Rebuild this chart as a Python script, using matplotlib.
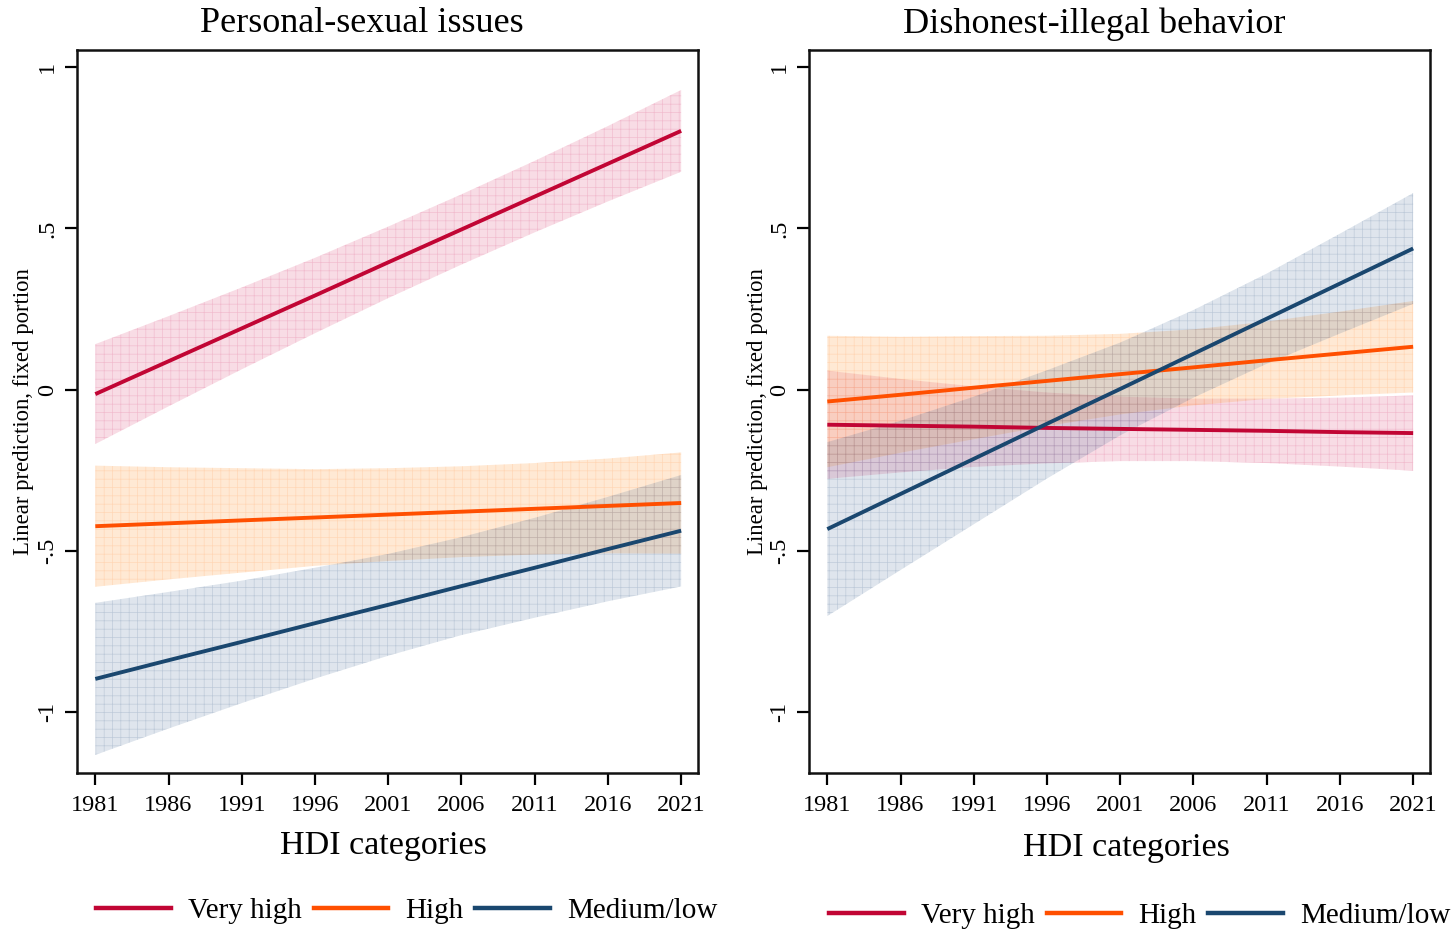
import matplotlib
matplotlib.use("Agg")
import matplotlib.pyplot as plt
from matplotlib.lines import Line2D

plt.rcParams["font.family"] = ["Liberation Serif", "DejaVu Serif"]
plt.rcParams["hatch.linewidth"] = 0.5

# Survey years at which the linear predictions are evaluated
years = [1981, 1986, 1991, 1996, 2001, 2006, 2011, 2016, 2021]
categories = ["Very high", "High", "Medium/low"]
panel_titles = ["Personal-sexual issues", "Dishonest-illegal behavior"]

# Personal-sexual issues: predictions and 95% CI bounds
sex_very_high = [-0.014, 0.088, 0.190, 0.292, 0.395, 0.497, 0.599, 0.701, 0.803]
sex_very_high_lo = [-0.169, -0.052, 0.063, 0.175, 0.284, 0.388, 0.488, 0.584, 0.676]
sex_very_high_hi = [0.141, 0.228, 0.317, 0.409, 0.506, 0.606, 0.710, 0.818, 0.930]

sex_high = [-0.424, -0.415, -0.406, -0.397, -0.388, -0.379, -0.370, -0.361, -0.352]
sex_high_lo = [-0.612, -0.589, -0.568, -0.547, -0.532, -0.520, -0.512, -0.508, -0.509]
sex_high_hi = [-0.236, -0.241, -0.244, -0.247, -0.244, -0.238, -0.228, -0.214, -0.195]

sex_medlow = [-0.898, -0.840, -0.783, -0.725, -0.668, -0.610, -0.553, -0.495, -0.438]
sex_medlow_lo = [-1.134, -1.052, -0.973, -0.897, -0.826, -0.762, -0.708, -0.657, -0.611]
sex_medlow_hi = [-0.662, -0.628, -0.593, -0.553, -0.510, -0.458, -0.398, -0.333, -0.265]

# Dishonest-illegal behavior: predictions and 95% CI bounds
dis_very_high = [-0.109, -0.112, -0.115, -0.119, -0.122, -0.125, -0.128, -0.132, -0.135]
dis_very_high_lo = [-0.277, -0.257, -0.240, -0.229, -0.222, -0.222, -0.228, -0.239, -0.252]
dis_very_high_hi = [0.059, 0.033, 0.010, -0.009, -0.022, -0.028, -0.028, -0.025, -0.018]

dis_high = [-0.037, -0.016, 0.006, 0.027, 0.048, 0.069, 0.091, 0.112, 0.133]
dis_high_lo = [-0.241, -0.196, -0.154, -0.113, -0.077, -0.049, -0.029, -0.018, -0.009]
dis_high_hi = [0.167, 0.164, 0.166, 0.167, 0.173, 0.187, 0.211, 0.242, 0.275]

dis_medlow = [-0.433, -0.324, -0.215, -0.106, 0.002, 0.111, 0.220, 0.329, 0.438]
dis_medlow_lo = [-0.703, -0.560, -0.418, -0.276, -0.142, -0.025, 0.080, 0.174, 0.266]
dis_medlow_hi = [-0.163, -0.097, -0.022, 0.060, 0.146, 0.247, 0.360, 0.484, 0.610]

ytick_values = [-1, -0.5, 0, 0.5, 1]
ytick_labels = ["-1", "-.5", "0", ".5", "1"]
xtick_values = list(range(1981, 2022, 5))

line_colors = ["#C10534", "#FF4F00", "#1A476F"]
band_faces = [(0.86, 0.20, 0.40, 0.17), (1.0, 0.66, 0.33, 0.25), (0.22, 0.38, 0.56, 0.16)]
band_hatch = [(0.85, 0.30, 0.50, 0.22), (1.0, 0.60, 0.30, 0.22), (0.30, 0.42, 0.58, 0.22)]

panels = [
    (panel_titles[0],
     [sex_very_high, sex_high, sex_medlow],
     [sex_very_high_lo, sex_high_lo, sex_medlow_lo],
     [sex_very_high_hi, sex_high_hi, sex_medlow_hi]),
    (panel_titles[1],
     [dis_very_high, dis_high, dis_medlow],
     [dis_very_high_lo, dis_high_lo, dis_medlow_lo],
     [dis_very_high_hi, dis_high_hi, dis_medlow_hi]),
]

fig = plt.figure(figsize=(14.55, 9.32), dpi=100)
W, H = 1455, 932

axes_boxes = [(77, 50, 698, 773), (809, 50, 1430, 773)]
title_x = [362, 1094]
xlabel_pos = [(383, 846), (1126, 848)]
ylabel_x = [24, 758]
legend_pos = [(407, 911), (1140, 916)]

for i, (title, preds, los, his) in enumerate(panels):
    x0, y0, x1, y1 = axes_boxes[i]
    ax = fig.add_axes([x0 / W, 1 - y1 / H, (x1 - x0) / W, (y1 - y0) / H])

    for k in range(3):
        ax.fill_between(years, los[k], his[k], facecolor=band_faces[k],
                        edgecolor=band_hatch[k], hatch="++", linewidth=0, zorder=1 + k)
    for k in range(3):
        ax.plot(years, preds[k], color=line_colors[k], lw=2.8,
                solid_capstyle="butt", zorder=5 + k)

    ax.set_xlim(1979.75, 2022.15)
    ax.set_ylim(-1.19, 1.054)
    ax.set_xticks(xtick_values)
    ax.set_xticklabels([str(v) for v in xtick_values], fontsize=17.5)
    ax.set_yticks(ytick_values)
    ax.set_yticklabels(ytick_labels, fontsize=17.5, rotation=90, va="center")
    ax.tick_params(axis="both", length=8.5, width=1.6, color="black")
    ax.tick_params(axis="x", pad=7)
    ax.tick_params(axis="y", pad=5)
    for sp in ax.spines.values():
        sp.set_linewidth(1.8)
        sp.set_color("#111111")

    fig.text(title_x[i] / W, 1 - 24 / H, title, fontsize=26, ha="center", va="center")
    fig.text(xlabel_pos[i][0] / W, 1 - xlabel_pos[i][1] / H, "HDI categories",
             fontsize=24.5, ha="center", va="center")
    fig.text(ylabel_x[i] / W, 1 - 411.5 / H, "Linear prediction, fixed portion",
             fontsize=16.4, rotation=90, ha="center", va="center")

    handles = [Line2D([], [], color=c, lw=3.2) for c in line_colors]
    fig.legend(handles, categories, loc="center",
               bbox_to_anchor=(legend_pos[i][0] / W, 1 - legend_pos[i][1] / H),
               ncol=3, frameon=False, fontsize=21, handlelength=2.55,
               handletextpad=0.6, columnspacing=0.4, borderpad=0, borderaxespad=0)

fig.savefig("out.png", dpi=100, facecolor="white")
